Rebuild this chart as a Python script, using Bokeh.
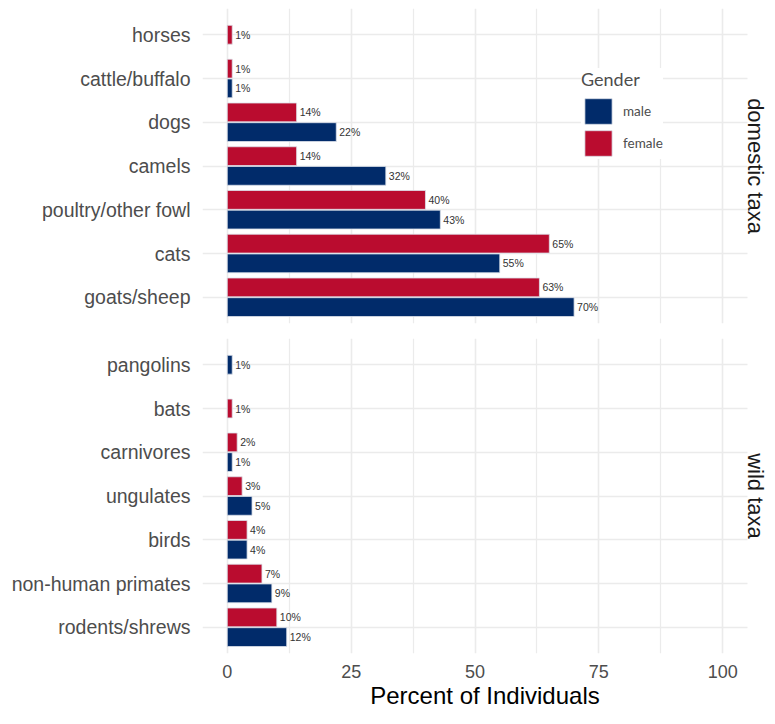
import math
from bokeh.plotting import figure
from bokeh.layouts import column
from bokeh.models import (ColumnDataSource, FactorRange, Range1d, FixedTicker,
                          Legend, LegendItem, Label, BoxAnnotation)
from bokeh.transform import dodge
from bokeh.core.properties import value
from bokeh.embed import file_html
from bokeh.resources import INLINE

# ---------------- data ----------------
domestic_taxa = ["horses", "cattle/buffalo", "dogs", "camels",
                 "poultry/other fowl", "cats", "goats/sheep"]
domestic_male = [None, 1, 22, 32, 43, 55, 70]
domestic_female = [1, 1, 14, 14, 40, 65, 63]

wild_taxa = ["pangolins", "bats", "carnivores", "ungulates", "birds",
             "non-human primates", "rodents/shrews"]
wild_male = [1, None, 1, 5, 4, 9, 12]
wild_female = [None, 1, 2, 3, 4, 7, 10]

genders = ["male", "female"]
gender_colors = {"male": "#012B6A", "female": "#BA0C2F"}
x_ticks = [0, 25, 50, 75, 100]
x_minor_ticks = [12.5, 37.5, 62.5, 87.5]
facet_labels = ["domestic taxa", "wild taxa"]
x_title = "Percent of Individuals"

# ---------------- layout constants ----------------
PANEL_W = 545          # width of the data panel in px
STRIP_W = 20           # strip (facet label) area to the right of the panel
FRAME_H = 315
LEFT = 202
DODGE = 0.225
BAR_H = 0.43
GRID = "#EBEBEB"
TICK_COLOR = "#4D4D4D"
X_START, X_END_PANEL = -5, 105
X_END = X_END_PANEL + STRIP_W * (X_END_PANEL - X_START) / PANEL_W

x_range = Range1d(X_START, X_END)


def split(taxa, male, female):
    pairs = {g: dict(cat=[], val=[], lab=[], color=[]) for g in genders}
    single = dict(cat=[], val=[], lab=[], color=[])
    for c, m, f in zip(taxa, male, female):
        vals = {"male": m, "female": f}
        if m is not None and f is not None:
            for g in genders:
                pairs[g]["cat"].append(c)
                pairs[g]["val"].append(vals[g])
                pairs[g]["lab"].append(f"{vals[g]}%")
                pairs[g]["color"].append(gender_colors[g])
        else:
            g = "male" if m is not None else "female"
            single["cat"].append(c)
            single["val"].append(vals[g])
            single["lab"].append(f"{vals[g]}%")
            single["color"].append(gender_colors[g])
    return pairs, single


def make_panel(taxa, male, female, facet, bottom):
    y_range = FactorRange(factors=list(reversed(taxa)), range_padding=0.1,
                          range_padding_units="absolute")
    p = figure(frame_width=PANEL_W + STRIP_W, frame_height=FRAME_H,
               x_range=x_range, y_range=y_range,
               output_backend="svg", toolbar_location=None,
               x_axis_location="below" if bottom else None,
               min_border_left=LEFT, min_border_right=0,
               min_border_top=8,
               min_border_bottom=0 if bottom else 7,
               outline_line_color=None, background_fill_color="white",
               border_fill_color="white")

    pairs, single = split(taxa, male, female)
    renderers = {}
    offsets = {"female": DODGE, "male": -DODGE}
    for g in genders:
        src = ColumnDataSource(pairs[g])
        yv = dodge("cat", offsets[g], range=y_range)
        renderers[g] = p.hbar(y=yv, left=0, right="val", height=BAR_H,
                              source=src, fill_color="color",
                              line_color="#DCE1EA", line_width=0.8)
        p.text(x="val", y=yv, text="lab", source=src, x_offset=3,
               text_align="left", text_baseline="middle",
               text_font=value("Liberation Sans"), text_font_size="10.5px",
               text_color="#333333")
    ssrc = ColumnDataSource(single)
    p.hbar(y="cat", left=0, right="val", height=BAR_H, source=ssrc,
           fill_color="color", line_color="#DCE1EA", line_width=0.8)
    p.text(x="val", y="cat", text="lab", source=ssrc, x_offset=3,
           text_align="left", text_baseline="middle",
           text_font=value("Liberation Sans"), text_font_size="10.5px",
           text_color="#333333")

    # grids
    p.xgrid.ticker = FixedTicker(ticks=x_ticks, minor_ticks=x_minor_ticks)
    p.xgrid.grid_line_color = GRID
    p.xgrid.grid_line_width = 1.6
    p.xgrid.minor_grid_line_color = GRID
    p.xgrid.minor_grid_line_width = 1.2
    p.ygrid.grid_line_color = GRID
    p.ygrid.grid_line_width = 1.6

    # y axis
    p.yaxis.axis_line_color = None
    p.yaxis.major_tick_line_color = None
    p.yaxis.minor_tick_line_color = None
    p.yaxis.major_tick_out = 0
    p.yaxis.major_tick_in = 0
    p.yaxis.major_label_standoff = 12
    p.yaxis.major_label_text_font = "Liberation Sans"
    p.yaxis.major_label_text_font_size = "19.5px"
    p.yaxis.major_label_text_color = TICK_COLOR

    if bottom:
        ax = p.xaxis[0]
        ax.ticker = FixedTicker(ticks=x_ticks, minor_ticks=x_minor_ticks)
        ax.axis_line_color = None
        ax.major_tick_line_color = None
        ax.minor_tick_line_color = None
        ax.major_tick_out = 0
        ax.major_tick_in = 0
        ax.minor_tick_out = 0
        ax.minor_tick_in = 0
        ax.major_label_standoff = 11
        ax.major_label_text_font = "Liberation Sans"
        ax.major_label_text_font_size = "18px"
        ax.major_label_text_color = TICK_COLOR
        ax.axis_label = x_title
        ax.axis_label_standoff = 1
        ax.axis_label_text_font = "Liberation Sans"
        ax.axis_label_text_font_size = "24px"
        ax.axis_label_text_font_style = "normal"
        ax.axis_label_text_color = "black"

    # strip area on the right (blank out grid lines) and facet label
    p.add_layout(BoxAnnotation(left=X_END_PANEL, fill_color="white",
                               fill_alpha=1.0, line_color=None,
                               line_alpha=0))
    p.add_layout(Label(x=PANEL_W + 8, y=FRAME_H / 2, x_units="screen",
                       y_units="screen", text=facet, angle=-math.pi / 2,
                       text_align="center", text_baseline="middle",
                       text_font="Liberation Sans", text_font_size="22px",
                       text_color="#1A1A1A"))
    return p, renderers


top, rends = make_panel(domestic_taxa, domestic_male, domestic_female,
                        facet_labels[0], bottom=False)
bot, _ = make_panel(wild_taxa, wild_male, wild_female,
                    facet_labels[1], bottom=True)

legend = Legend(
    items=[LegendItem(label=g, renderers=[rends[g]]) for g in genders],
    title="Gender", location=(379, 164), orientation="vertical",
    glyph_width=34, glyph_height=32, label_standoff=8, spacing=0,
    padding=12, margin=0, title_standoff=5,
    border_line_color=None, background_fill_color="white",
    background_fill_alpha=1.0,
    title_text_font="Lato", title_text_font_size="18px",
    title_text_font_style="normal", title_text_color="#4D4D4D",
    label_text_font="Lato", label_text_font_size="13.5px",
    label_text_color="#4D4D4D")
top.add_layout(legend)

layout = column(top, bot, spacing=0)
open("out.html", "w").write(file_html(layout, INLINE))
